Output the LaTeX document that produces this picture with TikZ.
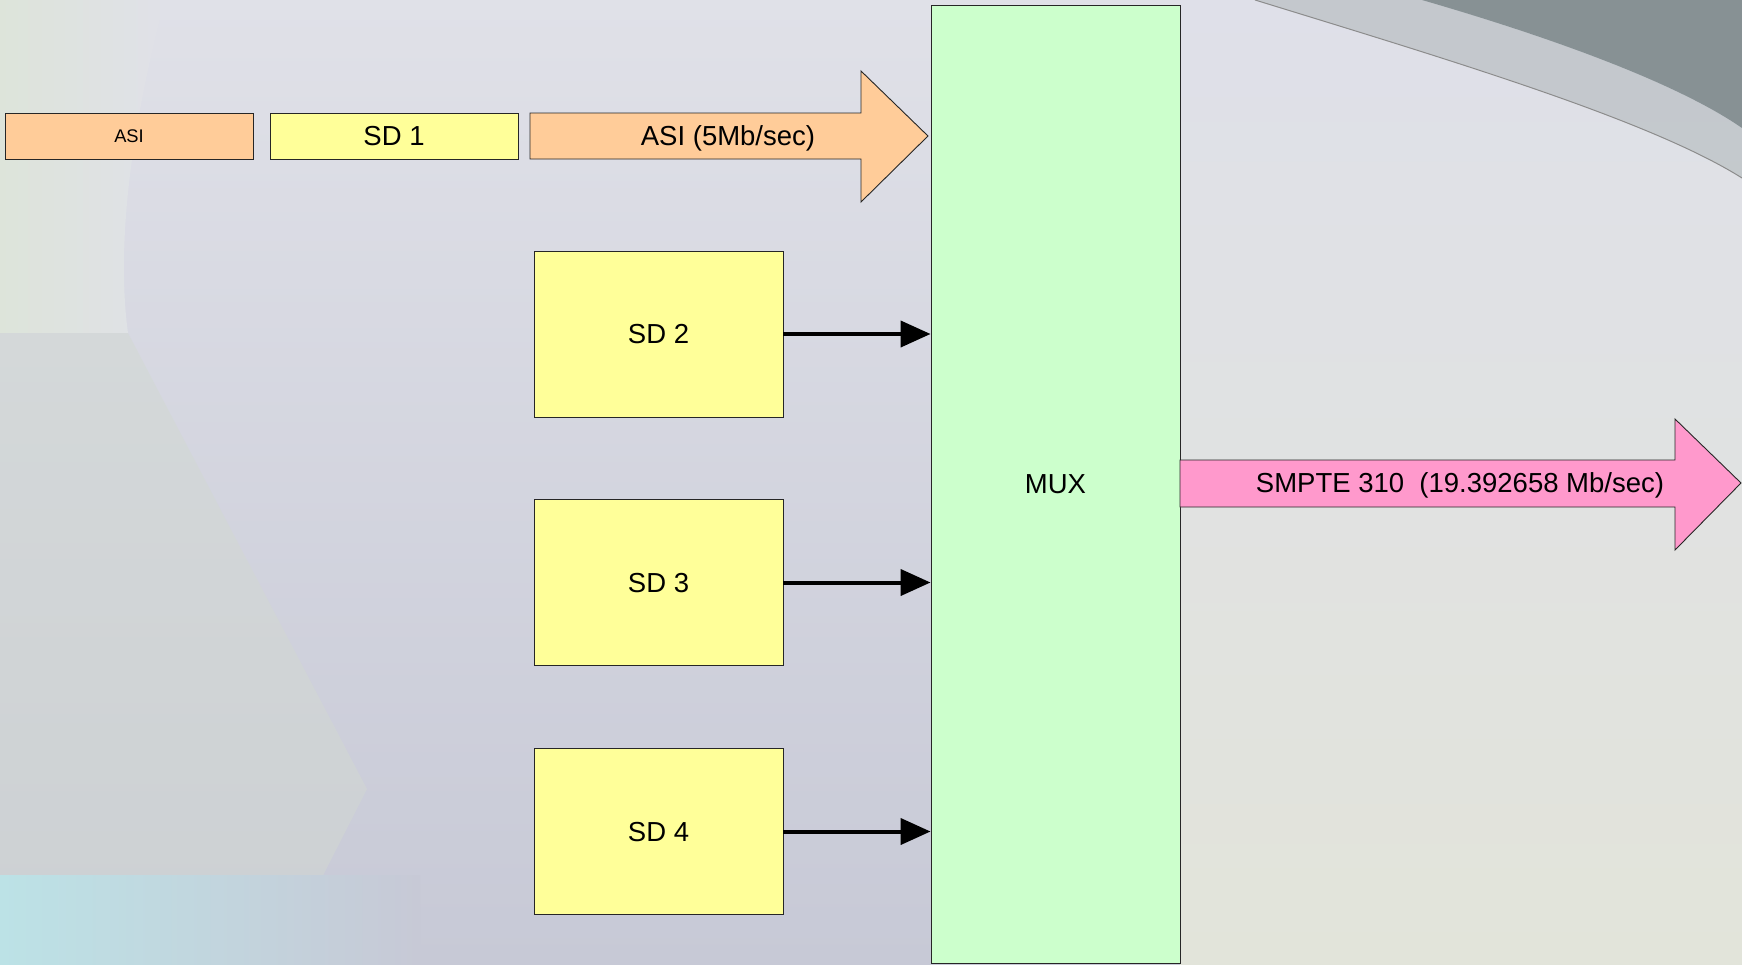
\documentclass[tikz,border=0pt]{standalone}
\usepackage{fontspec}
\setmainfont{Liberation Sans}
\usetikzlibrary{arrows.meta}
\definecolor{asiorange}{HTML}{FFCC99}
\definecolor{sdyellow}{HTML}{FFFF99}
\definecolor{muxgreen}{HTML}{CCFFCC}
\definecolor{smptepink}{HTML}{FF99CC}
\definecolor{bgtop}{HTML}{E0E1E8}
\definecolor{bgbottom}{HTML}{C7C9D6}
\definecolor{bggreen}{HTML}{DDE4DA}
\definecolor{bgwedge}{HTML}{D2D8D2}
\definecolor{bgcyan}{HTML}{BCE2E6}
\definecolor{rtop}{HTML}{DFE0E9}
\definecolor{rmid}{HTML}{CCD0D1}
\definecolor{rbottom}{HTML}{E2E4DA}
\definecolor{arcgray}{HTML}{B9BFC2}
\definecolor{arcdark}{HTML}{7D888B}
\begin{document}
\begin{tikzpicture}[x=1pt,y=-1pt,
  box/.style={draw=black!85,line width=0.9pt,inner sep=0pt},
  bigtext/.style={font=\fontsize{27.5}{32}\selectfont,text height=19.7pt,text depth=0pt},
  smalltext/.style={font=\fontsize{18.3}{22}\selectfont,text height=13.1pt,text depth=0pt},
  blockarrow/.style={draw=black!85,line width=0.9pt},
  conn/.style={line width=4pt,-{Triangle[length=30pt,width=26pt]}}]
\useasboundingbox (0,0) rectangle (1742,964);
% background
\shade[top color=bgtop,bottom color=bgbottom] (0,0) rectangle (1180,964);
\shade[left color=bggreen,right color=bgtop] (0,0) -- (165,0) .. controls (125,150) and (118,260) .. (128,333) -- (0,333) -- cycle;
\fill[bgwedge,opacity=0.5] (0,333) -- (128,333) -- (367,789) -- (278,964) -- (0,964) -- cycle;
\shade[left color=bgcyan,right color=bgbottom] (0,875) rectangle (420,964);
\shade[top color=rtop,middle color=rmid,bottom color=rbottom] (1180,0) rectangle (1742,964);
\fill[arcgray,opacity=0.7] (1255,0) .. controls (1450,60) and (1650,120) .. (1742,178) -- (1742,0) -- cycle;
\draw[black!45,line width=1pt] (1255,0) .. controls (1450,60) and (1650,120) .. (1742,178);
\fill[arcdark,opacity=0.85] (1422,0) .. controls (1560,40) and (1680,85) .. (1742,128) -- (1742,0) -- cycle;
% top row
\node[box,fill=asiorange,minimum width=248pt,minimum height=46pt,smalltext] (asi) at (129,136) {ASI};
\node[box,fill=sdyellow,minimum width=248pt,minimum height=46pt,bigtext] (sd1) at (394,136) {SD 1};
\filldraw[blockarrow,fill=asiorange] (530,113) -- (861,113) -- (861,71) -- (928,136) -- (861,202) -- (861,159) -- (530,159) -- cycle;
\node[bigtext] (asilabel) at (728,136) {ASI (5Mb/sec)};
% MUX
\node[box,fill=muxgreen,minimum width=249pt,minimum height=958pt,bigtext] (mux) at (1055.5,484) {MUX};
% SD boxes
\node[box,fill=sdyellow,minimum width=249pt,minimum height=166pt,bigtext] (sd2) at (658.5,334) {SD 2};
\node[box,fill=sdyellow,minimum width=249pt,minimum height=166pt,bigtext] (sd3) at (658.5,582.5) {SD 3};
\node[box,fill=sdyellow,minimum width=249pt,minimum height=166pt,bigtext] (sd4) at (658.5,831.5) {SD 4};
\draw[conn] (sd2.east) -- (sd2.east -| mux.west);
\draw[conn] (sd3.east) -- (sd3.east -| mux.west);
\draw[conn] (sd4.east) -- (sd4.east -| mux.west);
% SMPTE output
\filldraw[blockarrow,fill=smptepink] (1180,460) -- (1675,460) -- (1675,419) -- (1741,483) -- (1675,550) -- (1675,507) -- (1180,507) -- cycle;
\node[bigtext] (smpte) at (1460,483) {SMPTE 310\ \ (19.392658 Mb/sec)};
\end{tikzpicture}
\end{document}
